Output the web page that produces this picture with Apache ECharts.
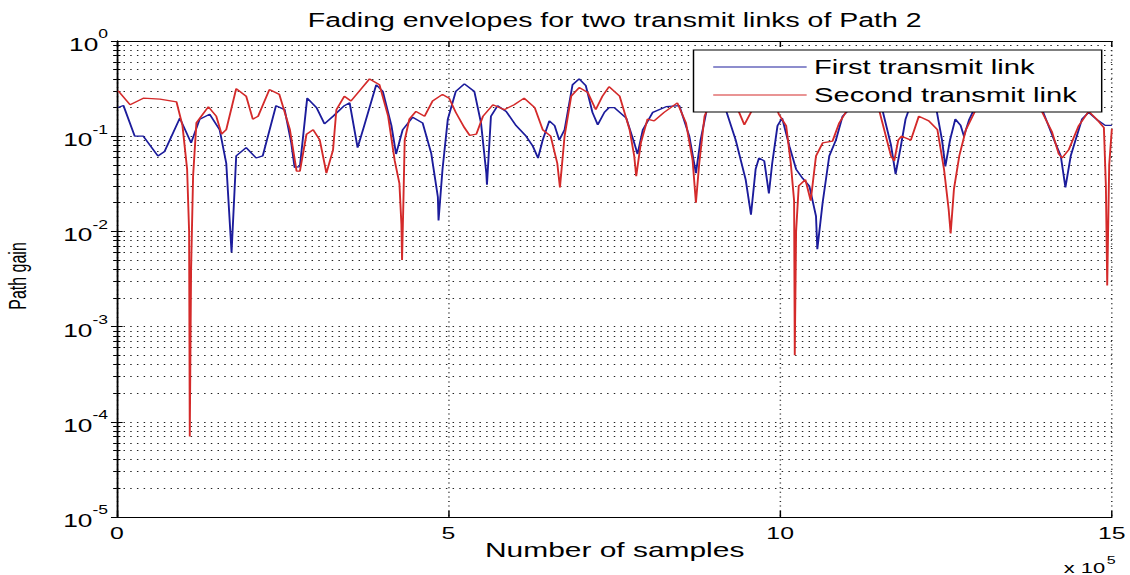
<!DOCTYPE html>
<html>
<head>
<meta charset="utf-8">
<script src="https://cdn.jsdelivr.net/npm/echarts/dist/echarts.min.js"></script>
<style>
html,body{margin:0;padding:0;background:#fff;overflow:hidden;}
#wrap{width:1130px;height:575px;overflow:hidden;}
/* the reference figure is a stretched MATLAB export, so draw narrow and stretch sideways */
#chart{width:774px;height:575px;transform:scaleX(1.46);transform-origin:0 0;}
</style>
</head>
<body>
<div id="wrap"><div id="chart"></div></div>
<script>
var fontFamily = '"Liberation Sans",Arial,Helvetica,sans-serif';

// x in units of 1e5 samples, y = path gain
var firstLink = [
  [0.02,0.20],[0.10,0.21],[0.27,0.10],[0.40,0.10],[0.62,0.062],[0.72,0.069],[0.95,0.155],[1.12,0.085],
  [1.25,0.151],[1.40,0.17],[1.55,0.117],[1.65,0.052],[1.73,0.006],[1.80,0.062],[1.95,0.076],[2.10,0.059],
  [2.20,0.062],[2.40,0.209],[2.53,0.19],[2.63,0.085],[2.68,0.047],[2.76,0.048],[2.87,0.251],[3.01,0.20],
  [3.13,0.135],[3.26,0.162],[3.43,0.209],[3.51,0.224],[3.63,0.076],[3.73,0.129],[3.91,0.347],[4.01,0.295],
  [4.14,0.129],[4.21,0.065],[4.31,0.117],[4.46,0.158],[4.61,0.138],[4.74,0.066],[4.84,0.023],[4.85,0.013],
  [4.91,0.045],[4.99,0.151],[5.11,0.295],[5.24,0.355],[5.39,0.295],[5.49,0.138],[5.57,0.041],[5.58,0.031],
  [5.64,0.162],[5.74,0.209],[5.87,0.182],[6.02,0.129],[6.17,0.10],[6.27,0.079],[6.35,0.059],[6.42,0.091],
  [6.52,0.145],[6.60,0.129],[6.67,0.091],[6.75,0.117],[6.87,0.347],[6.97,0.40],[7.07,0.339],[7.17,0.178],
  [7.25,0.132],[7.35,0.178],[7.42,0.20],[7.50,0.20],[7.68,0.155],[7.80,0.085],[7.85,0.065],[7.93,0.117],
  [8.08,0.178],[8.28,0.204],[8.48,0.209],[8.63,0.10],[8.73,0.041],[8.80,0.091],[8.90,0.20],[9.04,0.30],
  [9.18,0.19],[9.33,0.091],[9.48,0.035],[9.56,0.015],[9.63,0.045],[9.68,0.059],[9.76,0.055],[9.83,0.025],
  [9.88,0.052],[9.96,0.129],[10.03,0.155],[10.14,0.078],[10.24,0.045],[10.34,0.036],[10.44,0.030],
  [10.54,0.0145],[10.56,0.0065],[10.64,0.020],[10.74,0.062],[10.84,0.091],[10.94,0.162],[11.04,0.19],
  [11.25,0.30],[11.40,0.25],[11.54,0.19],[11.67,0.081],[11.74,0.040],[11.82,0.079],[11.89,0.151],
  [12.0,0.25],[12.2,0.30],[12.35,0.20],[12.44,0.091],[12.49,0.048],[12.56,0.091],[12.64,0.151],
  [12.72,0.13],[12.77,0.10],[12.85,0.15],[12.95,0.21],[13.2,0.30],[13.5,0.35],[13.8,0.30],[13.95,0.19],
  [14.13,0.091],[14.23,0.062],[14.30,0.029],[14.38,0.062],[14.45,0.09],[14.55,0.151],[14.65,0.178],
  [14.77,0.15],[14.9,0.13],[15.0,0.13]
];
var secondLink = [
  [0.02,0.30],[0.20,0.214],[0.40,0.251],[0.65,0.245],[0.90,0.229],[0.99,0.129],[1.06,0.045],[1.09,0.01],
  [1.10,0.00007],[1.12,0.004],[1.15,0.038],[1.20,0.138],[1.38,0.204],[1.50,0.162],[1.58,0.105],[1.65,0.117],
  [1.80,0.316],[1.95,0.263],[2.05,0.151],[2.13,0.162],[2.30,0.309],[2.45,0.275],[2.61,0.117],[2.71,0.043],
  [2.76,0.043],[2.86,0.105],[2.96,0.117],[3.06,0.091],[3.16,0.041],[3.26,0.072],[3.31,0.19],[3.43,0.263],
  [3.53,0.234],[3.66,0.30],[3.81,0.40],[3.96,0.347],[4.09,0.162],[4.19,0.055],[4.26,0.032],[4.29,0.012],
  [4.30,0.005],[4.32,0.02],[4.34,0.091],[4.41,0.151],[4.51,0.182],[4.64,0.162],[4.76,0.234],[4.91,0.275],
  [5.01,0.251],[5.11,0.178],[5.24,0.123],[5.32,0.102],[5.42,0.105],[5.52,0.162],[5.67,0.214],[5.84,0.19],
  [5.99,0.214],[6.14,0.251],[6.30,0.20],[6.42,0.117],[6.54,0.10],[6.64,0.052],[6.68,0.029],[6.75,0.10],
  [6.85,0.263],[6.97,0.324],[7.10,0.288],[7.22,0.19],[7.32,0.263],[7.42,0.331],[7.58,0.263],[7.73,0.117],
  [7.80,0.062],[7.83,0.038],[7.90,0.085],[8.00,0.151],[8.10,0.145],[8.25,0.178],[8.45,0.224],[8.58,0.138],
  [8.68,0.056],[8.73,0.02],[8.78,0.052],[8.86,0.162],[9.0,0.28],[9.2,0.30],[9.35,0.20],[9.46,0.132],
  [9.58,0.19],[9.75,0.30],[9.9,0.25],[9.98,0.17],[10.09,0.129],[10.16,0.052],[10.21,0.021],[10.22,0.0005],
  [10.24,0.01],[10.28,0.030],[10.38,0.035],[10.46,0.021],[10.54,0.062],[10.64,0.085],[10.79,0.089],
  [10.89,0.138],[10.99,0.178],[11.2,0.30],[11.35,0.25],[11.49,0.19],[11.67,0.062],[11.72,0.055],
  [11.78,0.091],[11.83,0.10],[11.97,0.091],[12.09,0.162],[12.24,0.145],[12.37,0.117],[12.47,0.045],
  [12.54,0.017],[12.57,0.0095],[12.62,0.028],[12.70,0.062],[12.80,0.117],[12.95,0.19],[13.2,0.30],
  [13.5,0.30],[13.75,0.25],[13.93,0.19],[14.10,0.11],[14.20,0.065],[14.25,0.059],[14.35,0.072],
  [14.50,0.129],[14.65,0.182],[14.77,0.151],[14.88,0.123],[14.91,0.03],[14.93,0.0027],[14.96,0.05],[15.0,0.12]
];
var seriesNames = ['First transmit link', 'Second transmit link'];
var xTicks = [0, 5, 10, 15];

var dotted = {color: '#222', width: 1, type: [1, 3.6]};

var chart = echarts.init(document.getElementById('chart'), null, {renderer: 'svg'});
var option = {
  animation: false,
  backgroundColor: '#fff',
  textStyle: {fontFamily: fontFamily},
  grid: {left: 80, right: 12, top: 41, bottom: 58},
  legend: {
    orient: 'vertical', left: 475, top: 50,
    padding: [7, 17, 7, 13],
    itemWidth: 64, itemHeight: 14, itemGap: 8,
    borderColor: '#000', borderWidth: 1, backgroundColor: '#fff',
    itemStyle: {opacity: 0},
    lineStyle: {width: 1},
    textStyle: {fontSize: 20, lineHeight: 18, color: '#000', fontFamily: fontFamily},
    data: seriesNames
  },
  xAxis: [{
    type: 'value', min: xTicks[0], max: xTicks[xTicks.length - 1], interval: 5,
    axisLine: {lineStyle: {color: '#000', width: 1}},
    axisTick: {inside: true, length: 6, lineStyle: {color: '#000'}},
    axisLabel: {fontSize: 17, color: '#000', margin: 8, fontFamily: fontFamily},
    splitLine: {show: true, lineStyle: dotted}
  }, {
    type: 'value', position: 'top', min: 0, max: 15, interval: 5,
    axisLine: {show: true, lineStyle: {color: '#000', width: 1}},
    axisTick: {show: true, inside: true, length: 6, lineStyle: {color: '#000'}},
    axisLabel: {show: false}, splitLine: {show: false}
  }],
  yAxis: [{
    type: 'log', logBase: 10, min: 1e-5, max: 1, splitNumber: 5,
    axisLine: {show: true, lineStyle: {color: '#000', width: 1}},
    axisTick: {show: true, inside: true, length: 4, lineStyle: {color: '#000'}},
    minorTick: {show: true, splitNumber: 9, length: 2.5, lineStyle: {color: '#000'}},
    splitLine: {show: true, lineStyle: dotted},
    minorSplitLine: {show: true, lineStyle: dotted},
    axisLabel: {
      margin: 6, color: '#000',
      formatter: function (v) {
        var e = Math.round(Math.log10(v));
        return '{b|10}{s|' + e + '}';
      },
      rich: {
        b: {fontSize: 18, fontFamily: fontFamily, color: '#000', padding: [8, 0, 0, 0]},
        s: {fontSize: 12, fontFamily: fontFamily, color: '#000', verticalAlign: 'top', padding: [0, 0, 8, 0]}
      }
    }
  }, {
    type: 'log', logBase: 10, min: 1e-5, max: 1, splitNumber: 5, position: 'right',
    axisLine: {show: true, lineStyle: {color: '#000', width: 1}},
    axisTick: {show: true, inside: true, length: 4, lineStyle: {color: '#000'}},
    minorTick: {show: true, splitNumber: 9, length: 2.5, lineStyle: {color: '#000'}},
    axisLabel: {show: false}, splitLine: {show: false}
  }],
  series: [{
    name: seriesNames[0], type: 'line', data: firstLink,
    symbol: 'none', showSymbol: false,
    lineStyle: {color: '#1c1c9c', width: 1.3}, itemStyle: {color: '#1c1c9c'}
  }, {
    name: seriesNames[1], type: 'line', data: secondLink,
    symbol: 'none', showSymbol: false,
    lineStyle: {color: '#d42a2a', width: 1.3}, itemStyle: {color: '#d42a2a'}
  }],
  graphic: [
    {type: 'text', x: 421, y: 20, style: {text: 'Fading envelopes for two transmit links of Path 2', font: '19.5px ' + fontFamily, fill: '#000', align: 'center', verticalAlign: 'middle', textAlign: 'center', textVerticalAlign: 'middle'}},
    {type: 'text', x: 421, y: 550, style: {text: 'Number of samples', font: '20.5px ' + fontFamily, fill: '#000', align: 'center', verticalAlign: 'middle', textAlign: 'center', textVerticalAlign: 'middle'}},
    {type: 'text', x: 12, y: 276, rotation: Math.PI / 2, style: {text: 'Path gain', font: '16px ' + fontFamily, fill: '#000', align: 'center', verticalAlign: 'middle', textAlign: 'center', textVerticalAlign: 'middle'}},
    {type: 'text', x: 757, y: 568, style: {text: 'x 10', font: '15px ' + fontFamily, fill: '#000', align: 'right', verticalAlign: 'middle', textAlign: 'right', textVerticalAlign: 'middle'}},
    {type: 'text', x: 758, y: 560, style: {text: '5', font: '11px ' + fontFamily, fill: '#000', align: 'left', verticalAlign: 'middle', textAlign: 'left', textVerticalAlign: 'middle'}}
  ]
};
chart.setOption(option);
</script>
</body>
</html>
